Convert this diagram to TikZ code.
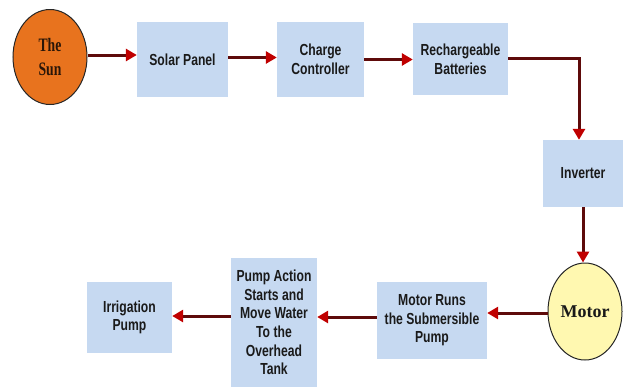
\documentclass[tikz,border=0pt]{standalone}
\usepackage{fontspec}
\setmainfont{Liberation Serif}
\newfontfamily\boxfont[FakeStretch=0.76]{Liberation Sans}
\newfontfamily\circfont[FakeStretch=0.72]{Liberation Serif}
\usetikzlibrary{arrows.meta,shapes.geometric}
\definecolor{boxblue}{HTML}{C6D9F1}
\definecolor{sunorange}{HTML}{E8731E}
\definecolor{motoryellow}{HTML}{FFF8B0}
\definecolor{linered}{HTML}{5E0A0A}
\definecolor{tipred}{HTML}{C00000}
\definecolor{txt}{HTML}{1A1A1A}
\definecolor{suntxt}{HTML}{2A1608}
\begin{document}
\begin{tikzpicture}[x=1pt,y=-1pt,
  blk/.style={rectangle, fill=boxblue, inner sep=2pt, align=center, text=txt,
    font=\boxfont\bfseries\fontsize{16}{18.6}\selectfont},
  circ/.style={ellipse, draw=black!85, line width=1pt, inner sep=0pt, align=center,
    text=suntxt, font=\circfont\bfseries\fontsize{19}{24}\selectfont},
  flow/.style={draw=linered, line width=3pt,
    -{Triangle[length=11pt,width=12pt,color=tipred]}}]
\useasboundingbox (0,0) rectangle (623,389);
\node[circ, fill=sunorange, minimum width=74pt, minimum height=95pt] (sun) at (50,57) {The\\Sun};
\node[blk, minimum width=91pt, minimum height=75pt] (solar) at (182.5,59.5) {Solar Panel};
\node[blk, minimum width=87pt, minimum height=75pt] (charge) at (320.5,59.5) {Charge\\Controller};
\node[blk, minimum width=95pt, minimum height=72pt] (bat) at (460.5,59) {Rechargeable\\Batteries};
\node[blk, minimum width=80pt, minimum height=67pt] (inv) at (583,173.5) {Inverter};
\node[circ, fill=motoryellow, minimum width=74pt, minimum height=97pt, text=black!90, font=\bfseries\fontsize{18}{24}\selectfont] (motor) at (585,311.5) {Motor};
\node[blk, minimum width=110pt, minimum height=77pt] (runs) at (432,320.5) {Motor Runs\\the Submersible\\Pump};
\node[blk, minimum width=86pt, minimum height=129pt] (pump) at (274,322.5) {Pump Action\\Starts and\\Move Water\\To the\\Overhead\\Tank};
\node[blk, minimum width=85pt, minimum height=71pt] (irr) at (129.5,317.5) {Irrigation\\Pump};
\coordinate (c1) at (579,58.5);
\draw[flow] (sun.east |- 0,55) -- (solar.west |- 0,55);
\draw[flow] (solar.east |- 0,57.5) -- (charge.west |- 0,57.5);
\draw[flow] (charge.east |- 0,59.5) -- (bat.west |- 0,59.5);
\draw[flow] (bat.east |- c1) -- (c1) -- (c1 |- inv.north);
\draw[flow] (inv.south) -- (inv.south |- motor.north);
\draw[flow] (motor.west |- 0,313) -- (runs.east |- 0,313);
\draw[flow] (runs.west |- 0,317) -- (pump.east |- 0,317);
\draw[flow] (pump.west |- 0,316) -- (irr.east |- 0,316);
\end{tikzpicture}
\end{document}
